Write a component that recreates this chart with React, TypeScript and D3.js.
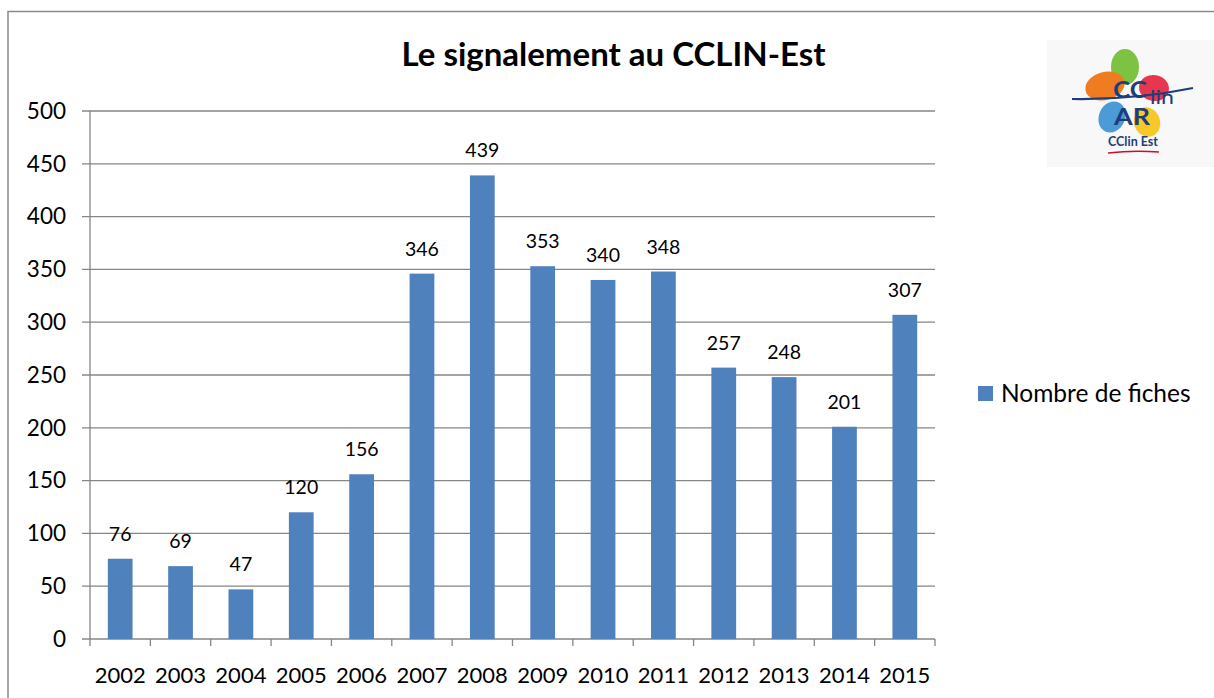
import React from "react";
import * as d3 from "d3";

const years = ["2002","2003","2004","2005","2006","2007","2008","2009","2010","2011","2012","2013","2014","2015"];
const values = [76, 69, 47, 120, 156, 346, 439, 353, 340, 348, 257, 248, 201, 307];
const yTicks = [0, 50, 100, 150, 200, 250, 300, 350, 400, 450, 500];
const title = "Le signalement au CCLIN-Est";
const seriesName = "Nombre de fiches";

const W = 1214, H = 698;
const left = 90, right = 935, top = 111, bottom = 639;
const font = "Lato, 'Open Sans', sans-serif";
const barColor = "#4f81bd";
const gridColor = "#868686";
const navy = "#1f3d7a";

export default function App() {
  const x = d3.scaleBand().domain(years).range([left, right]).paddingInner(0.59).paddingOuter(0.295);
  const y = d3.scaleLinear().domain([0, 500]).range([bottom, top]);
  const step = (right - left) / years.length;
  return (
    <svg width={W} height={H} style={{ position: "absolute", left: 0, top: 0, background: "#fff" }}>
      <rect x={8} y={11.5} width={W + 10} height={H + 10} fill="#fff" stroke="#8a8a8a" strokeWidth={1.5} />
      <text x={613.5} y={66} textAnchor="middle" fontFamily={font} fontWeight="bold" fontSize={33} fill="#000">{title}</text>
      {yTicks.map(t => (
        <g key={t}>
          <line x1={82} x2={right} y1={y(t)} y2={y(t)} stroke={gridColor} strokeWidth={1.3} />
          <text x={66} y={y(t)} dy="0.35em" textAnchor="end" fontFamily={font} fontSize={22.5} fill="#000">{t}</text>
        </g>
      ))}
      <line x1={left} x2={left} y1={top} y2={bottom} stroke={gridColor} strokeWidth={1.3} />
      {d3.range(years.length + 1).map(i => (
        <line key={i} x1={left + i * step} x2={left + i * step} y1={bottom} y2={bottom + 7} stroke={gridColor} strokeWidth={1.3} />
      ))}
      {years.map((yr, i) => (
        <g key={yr}>
          <rect x={x(yr)} y={y(values[i])} width={x.bandwidth()} height={bottom - y(values[i])} fill={barColor} />
          <text x={(x(yr) as number) + x.bandwidth() / 2} y={y(values[i]) - 18} textAnchor="middle" fontFamily={font} fontSize={19.5} fill="#000">{values[i]}</text>
          <text x={(x(yr) as number) + x.bandwidth() / 2} y={683} textAnchor="middle" fontFamily={font} fontSize={22} fill="#000">{yr}</text>
        </g>
      ))}
      <rect x={978} y={386} width={15} height={15} fill={barColor} />
      <text x={1001} y={393.5} dy="0.35em" fontFamily={font} fontSize={24.5} fill="#000">{seriesName}</text>
      <g>
        <rect x={1047} y={40} width={167} height={127} fill="#f8f8f8" />
        <ellipse cx={1125} cy={67} rx={14} ry={18} fill="#7dc242" />
        <ellipse cx={1105} cy={86} rx={20} ry={14} fill="#f07c22" transform="rotate(-15 1105 86)" />
        <ellipse cx={1154} cy={88} rx={15} ry={13} fill="#e8364f" transform="rotate(10 1154 88)" />
        <ellipse cx={1112} cy={117} rx={13} ry={16} fill="#4a9bd6" transform="rotate(25 1112 117)" />
        <ellipse cx={1147} cy={122} rx={13} ry={15} fill="#f7c928" transform="rotate(-20 1147 122)" />
        <path d="M1072,99 Q1135,100 1193,88" stroke={navy} strokeWidth={2.2} fill="none" />
        <text x={1113} y={98} fontFamily={font} fontWeight="bold" fontSize={23} fill={navy} textLength={34} lengthAdjust="spacingAndGlyphs">CC</text>
        <text x={1150} y={104} fontFamily={font} fontSize={19} fill={navy} textLength={24} lengthAdjust="spacingAndGlyphs">lin</text>
        <text x={1114} y={125} fontFamily={font} fontWeight="bold" fontSize={22} fill={navy} textLength={36} lengthAdjust="spacingAndGlyphs">AR</text>
        <text x={1133} y={146} textAnchor="middle" fontFamily={font} fontWeight="bold" fontSize={12.5} fill={navy}>CClin Est</text>
        <path d="M1108,153 Q1133,150 1159,152" stroke="#c8102e" strokeWidth={1.5} fill="none" />
      </g>
    </svg>
  );
}
